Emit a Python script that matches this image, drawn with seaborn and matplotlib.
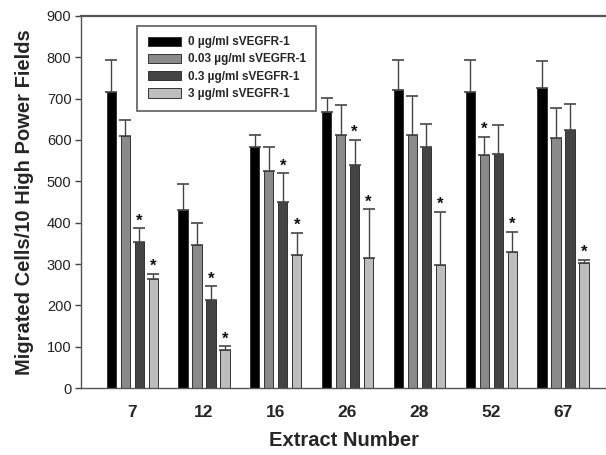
import matplotlib
matplotlib.use("Agg")
import matplotlib.pyplot as plt
import seaborn as sns
import pandas as pd
import numpy as np

extracts = ["7", "12", "16", "26", "28", "52", "67"]
concentrations = ["0 µg/ml sVEGFR-1", "0.03 µg/ml sVEGFR-1",
                  "0.3 µg/ml sVEGFR-1", "3 µg/ml sVEGFR-1"]
mean_0 = [715, 430, 582, 667, 722, 715, 725]
mean_003 = [609, 345, 525, 613, 613, 563, 606]
mean_03 = [353, 212, 451, 540, 582, 566, 624]
mean_3 = [263, 91, 323, 314, 298, 330, 302]
err_0 = [78, 63, 31, 35, 72, 78, 67]
err_003 = [39, 54, 58, 71, 93, 44, 72]
err_03 = [33, 34, 68, 60, 56, 71, 62]
err_3 = [14, 10, 52, 118, 128, 47, 8]
sig_0 = [False] * 7
sig_003 = [False, False, False, False, False, True, False]
sig_03 = [True, True, True, True, False, False, False]
sig_3 = [True] * 7
y_ticks = [0, 100, 200, 300, 400, 500, 600, 700, 800, 900]

colors = ["#000000", "#8a8a8a", "#444444", "#bdbdbd"]

means = [mean_0, mean_003, mean_03, mean_3]
errs = [err_0, err_003, err_03, err_3]
sigs = [sig_0, sig_003, sig_03, sig_3]

rows = []
for c, m in zip(concentrations, means):
    for e, v in zip(extracts, m):
        rows.append({"Extract": e, "Conc": c, "Value": v})
df = pd.DataFrame(rows)

sns.set_style("white")
plt.rcParams["font.family"] = ["Liberation Sans", "DejaVu Sans"]

fig = plt.figure(figsize=(6.06, 4.55), dpi=100)
ax = fig.add_axes([0.134, 0.147, 0.866, 0.818])

sns.barplot(data=df, x="Extract", y="Value", hue="Conc", order=extracts,
            hue_order=concentrations, palette=colors, width=0.78, gap=0.34,
            edgecolor="#333333", linewidth=0.7, errorbar=None, ax=ax,
            saturation=1)

bar_containers = list(ax.containers)

# error bars and significance stars
for i, cont in enumerate(bar_containers):
    for j, bar in enumerate(cont.patches):
        xc = bar.get_x() + bar.get_width() / 2
        h = bar.get_height()
        ax.errorbar([xc], [h], yerr=[[0], [errs[i][j]]], fmt="none",
                    ecolor="#444444", elinewidth=1.0, capsize=4.5,
                    capthick=1.2)
        if sigs[i][j]:
            ax.annotate("*", (xc, h + errs[i][j]), xytext=(0, 0),
                        textcoords="offset points", ha="center", va="bottom",
                        fontsize=12, fontweight="bold", color="#111111")

ax.set_ylim(0, 900)
ax.set_xlim(-0.71, 6.6)
ax.set_yticks(y_ticks)
ax.set_yticklabels([str(t) for t in y_ticks], fontsize=10.5, color="#222222")
ax.tick_params(axis="y", which="both", left=True, length=4, width=1,
               color="#444444", pad=3)
ax.tick_params(axis="x", bottom=False, labelsize=12.5, pad=9)
for lab in ax.get_xticklabels():
    lab.set_fontweight("bold")

ax.set_xlabel("Extract Number", fontsize=14.5, fontweight="bold")
ax.xaxis.set_label_coords(0.5, -0.115)
ax.set_ylabel("Migrated Cells/10 High Power Fields", fontsize=14.5,
              fontweight="bold")
ax.yaxis.set_label_coords(-0.089, 0.5)

for s in ["left", "bottom", "top"]:
    ax.spines[s].set_visible(True)
    ax.spines[s].set_color("#555555")
ax.spines["top"].set_linewidth(1.6)
ax.spines["left"].set_linewidth(1.0)
ax.spines["bottom"].set_linewidth(1.0)
ax.spines["right"].set_visible(False)

leg = ax.legend(loc="upper left", bbox_to_anchor=(0.095, 0.99),
                frameon=True, fancybox=False, edgecolor="#333333",
                prop={"weight": "bold", "size": 8.5}, handlelength=2.8,
                handleheight=0.8, labelspacing=0.45, borderpad=0.9,
                handletextpad=0.6)
leg.get_frame().set_linewidth(1.2)

fig.savefig("out.png", dpi=100)
